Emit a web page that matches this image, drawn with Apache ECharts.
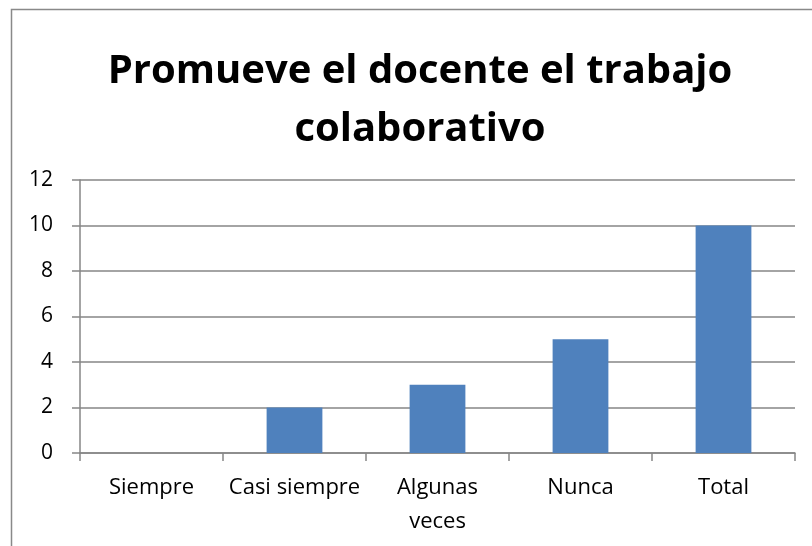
<!DOCTYPE html>
<html><head><meta charset="utf-8">
<script src="https://cdn.jsdelivr.net/npm/echarts@6/dist/echarts.min.js"></script>
<style>html,body{margin:0;padding:0;background:#fff}#c{width:812px;height:546px}</style>
</head><body><div id="c"></div>
<script>
const titleText = 'Promueve el docente el trabajo\ncolaborativo';
const categories = ['Siempre', 'Casi siempre', 'Algunas\nveces', 'Nunca', 'Total'];
const values = [0, 2, 3, 5, 10];
const yTicks = {min: 0, max: 12, interval: 2};

const chart = echarts.init(document.getElementById('c'), null, {renderer: 'canvas'});
chart.setOption({
  animation: false,
  backgroundColor: '#fff',
  graphic: [{type: 'rect', silent: true, z: -1,
    shape: {x: 11.5, y: 9.5, width: 900, height: 700},
    style: {fill: 'none', stroke: '#898989', lineWidth: 1.5}}],
  title: {
    text: titleText, left: 415, textAlign: 'center', top: 38,
    textStyle: {fontFamily: 'Open Sans', fontWeight: 'bold', fontSize: 40, lineHeight: 58, color: '#000'}
  },
  grid: {left: 80, right: 17, top: 180, bottom: 93, containLabel: false},
  xAxis: {
    type: 'category', data: categories,
    axisLine: {lineStyle: {color: '#868686', width: 1.5}},
    axisTick: {show: true, length: 8, alignWithLabel: false, lineStyle: {color: '#868686', width: 1.5}},
    axisLabel: {color: '#000', fontFamily: 'Open Sans', fontSize: 22, lineHeight: 34, margin: 18, interval: 0}
  },
  yAxis: {
    type: 'value', min: yTicks.min, max: yTicks.max, interval: yTicks.interval,
    axisLine: {show: true, lineStyle: {color: '#868686', width: 1.5}},
    axisTick: {show: true, length: 8, lineStyle: {color: '#868686', width: 1.5}},
    splitLine: {lineStyle: {color: '#868686', width: 1.5}},
    axisLabel: {color: '#000', fontFamily: 'Open Sans', fontSize: 21, margin: 27}
  },
  series: [{
    type: 'bar', data: values, barWidth: '39%',
    itemStyle: {color: '#4F81BD'}
  }]
});
</script></body></html>
